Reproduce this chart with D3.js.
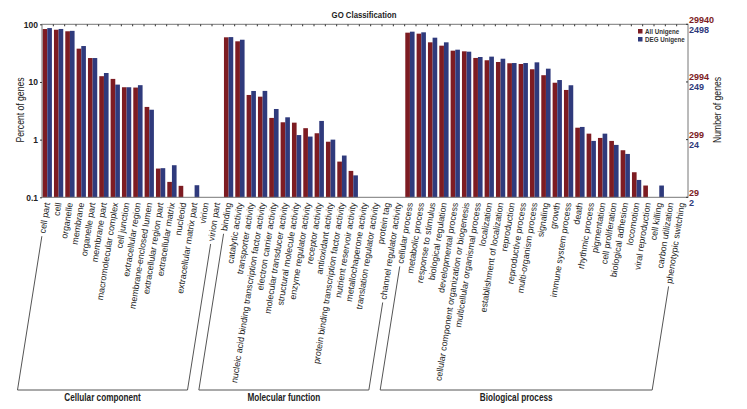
<!DOCTYPE html>
<html>
<head>
<meta charset="utf-8">
<script src="https://d3js.org/d3.v7.min.js"></script>
<style>
  body { margin: 0; background: #fff; }
  text { font-family: "Liberation Sans", Arial, sans-serif; }
</style>
</head>
<body>
<script>
// GO classification, two series on a log scale

var groups = ["Cellular component", "Molecular function", "Biological process"];

var ccCats = ["cell part", "cell", "organelle", "membrane", "organelle part", "membrane part",
  "macromolecular complex", "cell junction", "extracellular region", "membrane-enclosed lumen",
  "extracellular region part", "extracellular matrix", "nucleoid", "extracellular matrix part",
  "virion", "virion part"];
var ccAll = [82.8, 80.5, 75.7, 37.8, 26, 12.6, 11.3, 8.1, 8.0, 3.69, 0.315, 0.185, 0.158, null, null, null];
var ccDeg = [86, 83, 77, 42, 26, 14.3, 9.0, 8.1, 8.8, 3.3, 0.32, 0.36, null, 0.162, null, null];

var mfCats = ["binding", "catalytic activity", "transporter activity",
  "nucleic acid binding transcription factor activity", "electron carrier activity",
  "molecular transducer activity", "structural molecule activity", "enzyme regulator activity",
  "receptor activity", "antioxidant activity", "protein binding transcription factor activity",
  "nutrient reservoir activity", "metallochaperone activity", "translation regulator activity",
  "protein tag", "channel regulator activity"];
var mfAll = [59.5, 50.7, 5.95, 5.56, 2.38, 2.0, 1.97, 1.58, 1.29, 0.92, 0.416, 0.287, null, null, null, null];
var mfDeg = [60, 54, 6.98, 7.0, 3.4, 2.44, 1.2, 1.13, 2.11, 1.0, 0.53, 0.24, null, null, null, null];

var bpCats = ["cellular process", "metabolic process", "response to stimulus", "biological regulation",
  "developmental process", "cellular component organization or biogenesis",
  "multicellular organismal process", "localization", "establishment of localization",
  "reproduction", "reproductive process", "multi-organism process", "signaling", "growth",
  "immune system process", "death", "rhythmic process", "pigmentation", "cell proliferation",
  "biological adhesion", "locomotion", "viral reproduction", "cell killing", "carbon utilization",
  "phenotypic switching"];
var bpAll = [71.6, 68.8, 48.7, 42.6, 34.9, 34.0, 26.1, 23.8, 22.2, 21.1, 20.5, 16.6, 13.1, 9.7, 7.27,
  1.61, 1.27, 1.07, 0.95, 0.655, 0.272, 0.16, null, null, null];
var bpDeg = [74.5, 72.6, 58.6, 48.7, 36.3, 33.5, 27.1, 27.5, 25.3, 21.3, 21.3, 21.9, 17.0, 10.8, 8.77,
  1.66, 0.95, 1.27, 0.81, 0.565, 0.2, null, 0.16, null, null];

var percentTicks = [100, 10, 1, 0.1];
var allCountTicks = [29940, 2994, 299, 29];
var degCountTicks = [2498, 249, 24, 2];
var seriesNames = ["All Unigene", "DEG Unigene"];
var colors = ["#7d1c22", "#2f3a7c"];

var w = 747, h = 409;
var plotL = 42, plotR = 688, plotT = 24.3, plotB = 197.3;
var angle = -81;
var squeeze = 0.82; // the chart uses a condensed face for titles

// flatten into rows
var rows = [];
[[ccCats, ccAll, ccDeg], [mfCats, mfAll, mfDeg], [bpCats, bpAll, bpDeg]].forEach(function(g, gi) {
  g[0].forEach(function(c, i) {
    rows.push({ cat: c, group: gi, vals: [g[1][i], g[2][i]] });
  });
});

var svg = d3.select("body").append("svg").attr("width", w).attr("height", h);

// condensed text helper
function narrowText(px, py, rot, txt) {
  var g = svg.append("g").attr("transform", "translate(" + px + "," + py + ") rotate(" + rot + ") scale(" + squeeze + ",1)");
  return g.append("text").text(txt);
}

var x = d3.scaleBand().domain(rows.map(function(d) { return d.cat; })).range([plotL, plotR]).padding(0);
var xs = d3.scaleBand().domain([0, 1]).range([0, x.bandwidth()]).paddingInner(0).paddingOuter(0.22);
var y = d3.scaleLog().domain([0.1, 100]).range([plotB, plotT]);

// bars
var cat = svg.selectAll(".cat").data(rows).enter().append("g")
  .attr("transform", function(d) { return "translate(" + (x(d.cat) - 0.4) + ",0)"; });
cat.selectAll("rect")
  .data(function(d) { return d.vals.map(function(v, i) { return { v: v, i: i }; }).filter(function(e) { return e.v; }); })
  .enter().append("rect")
  .attr("x", function(e) { return xs(e.i); })
  .attr("width", xs.bandwidth())
  .attr("y", function(e) { return y(e.v); })
  .attr("height", function(e) { return plotB - y(e.v); })
  .attr("fill", function(e) { return colors[e.i]; });

// frame
svg.append("rect").attr("x", plotL).attr("y", plotT).attr("width", plotR - plotL).attr("height", plotB - plotT)
  .attr("fill", "none").attr("stroke", "#777").attr("stroke-width", 1);

// top ticks at category boundaries
svg.selectAll(".tt").data(rows.slice(1)).enter().append("line")
  .attr("x1", function(d) { return x(d.cat); }).attr("x2", function(d) { return x(d.cat); })
  .attr("y1", plotT).attr("y2", plotT + 2).attr("stroke", "#333");

// left axis
var yAxis = d3.axisLeft(y).tickValues(percentTicks).tickSize(2).tickFormat(function(d) { return d; });
var ga = svg.append("g").attr("transform", "translate(" + plotL + ",0)").call(yAxis);
ga.select(".domain").remove();
ga.selectAll("line").attr("stroke", "#333");
ga.selectAll("text").attr("font-size", 8.5).attr("font-weight", "bold").attr("fill", "#222")
  .attr("font-family", "Liberation Sans, Arial, sans-serif").attr("dx", 1);

// right axis: two coloured labels per tick
var gr = svg.append("g").attr("transform", "translate(" + plotR + ",0)");
gr.selectAll("line").data(percentTicks).enter().append("line")
  .attr("x1", -2).attr("x2", 0).attr("y1", function(d) { return y(d); }).attr("y2", function(d) { return y(d); })
  .attr("stroke", "#333");
gr.selectAll(".ra").data(percentTicks).enter().append("text")
  .attr("x", 1).attr("y", function(d) { return y(d) - 1.5; })
  .attr("font-size", 9).attr("fill", colors[0]).attr("font-weight", "bold")
  .text(function(d, i) { return allCountTicks[i]; });
gr.selectAll(".rd").data(percentTicks).enter().append("text")
  .attr("x", 1).attr("y", function(d) { return y(d) + 8.5; })
  .attr("font-size", 9).attr("fill", colors[1]).attr("font-weight", "bold")
  .text(function(d, i) { return degCountTicks[i]; });

// axis titles
narrowText(24, 110, -90, "Percent of genes")
  .attr("text-anchor", "middle").attr("font-size", 10.5).attr("fill", "#222");
narrowText(721, 110, -90, "Number of genes")
  .attr("text-anchor", "middle").attr("font-size", 10.5).attr("fill", "#222");

// title
narrowText(364, 18, 0, "GO Classification")
  .attr("text-anchor", "middle").attr("font-size", 9.5).attr("font-weight", "bold").attr("fill", "#222");

// legend
var lg = svg.append("g").attr("transform", "translate(638,29)");
seriesNames.forEach(function(s, i) {
  lg.append("rect").attr("x", 0).attr("y", i * 8).attr("width", 4.5).attr("height", 4.5).attr("fill", colors[i]);
  narrowText(645, 29 + i * 8 + 4.6, 0, s).attr("font-size", 7.6).attr("font-weight", "bold").attr("fill", "#333");
});

// category labels
var rad = angle * Math.PI / 180;
var dir = [-Math.cos(rad), -Math.sin(rad)]; // from anchor toward text start
var perp = [Math.sin(rad), -Math.cos(rad)];  // glyph "up" side
var labels = svg.selectAll(".lab").data(rows).enter().append("text")
  .attr("transform", function(d) { return "translate(" + (x(d.cat) + x.bandwidth() / 2 + 2.5) + ",203) rotate(" + angle + ")"; })
  .attr("text-anchor", "end").attr("font-size", 8.9).attr("fill", "#222")
  .text(function(d) { return d.cat; });

// group brackets
var baseY = 390;
function bracketFoot(d, node) {
  var ax = x(d.cat) + x.bandwidth() / 2 + 2.5, ay = 203;
  var len = node.getComputedTextLength() + 3;
  var sx = ax + dir[0] * len + perp[0] * 3, sy = ay + dir[1] * len + perp[1] * 3;
  var t = (baseY - sy) / dir[1];
  return { sx: sx, sy: sy, ex: sx + dir[0] * t, ey: baseY };
}
var nodes = labels.nodes();
groups.forEach(function(g, gi) {
  var idx = rows.map(function(d, i) { return d.group === gi ? i : -1; }).filter(function(i) { return i >= 0; });
  var a = bracketFoot(rows[idx[0]], nodes[idx[0]]);
  var b = bracketFoot(rows[idx[idx.length - 1]], nodes[idx[idx.length - 1]]);
  var path = d3.path();
  path.moveTo(a.sx, a.sy);
  path.lineTo(a.ex, a.ey);
  path.lineTo(b.ex, b.ey);
  path.lineTo(b.sx, b.sy);
  svg.append("path").attr("d", path.toString()).attr("fill", "none").attr("stroke", "#555").attr("stroke-width", 1);
  narrowText((a.ex + b.ex) / 2, 401, 0, g)
    .attr("text-anchor", "middle").attr("font-size", 10).attr("font-weight", "bold").attr("fill", "#222");
});
</script>
</body>
</html>
